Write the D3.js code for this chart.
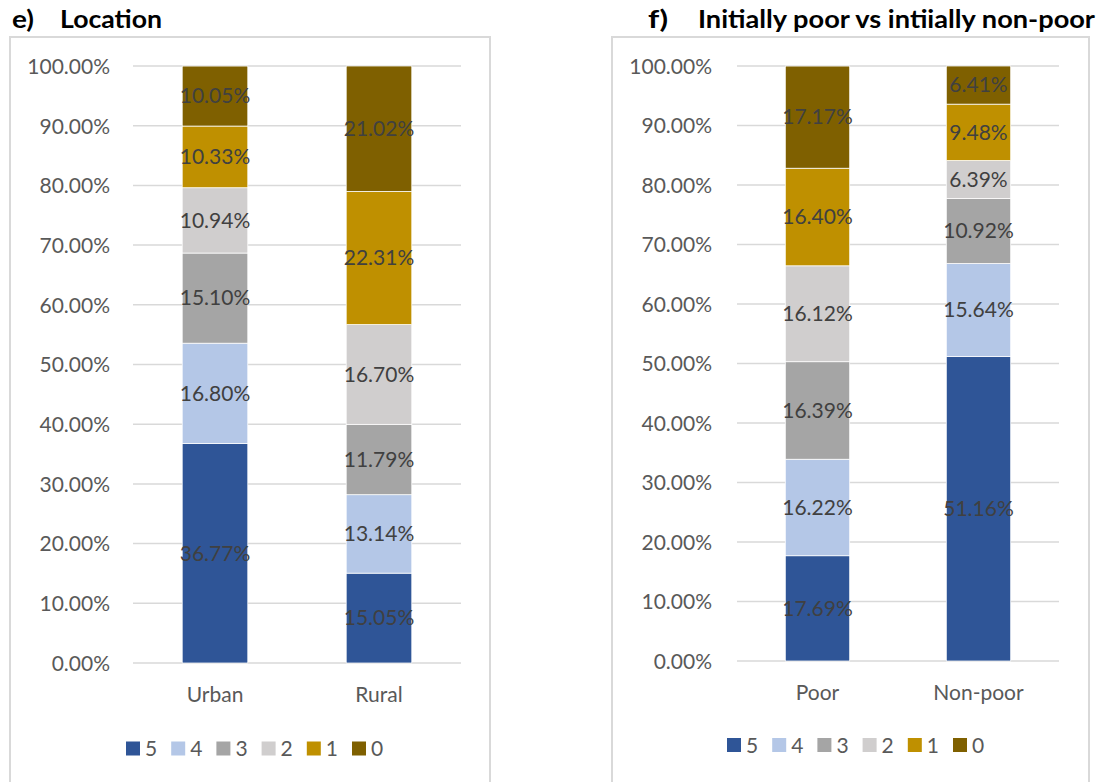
<!DOCTYPE html>
<html>
<head>
<meta charset="utf-8">
<script src="https://cdn.jsdelivr.net/npm/d3@7/dist/d3.min.js"></script>
<style>
  html, body { margin: 0; padding: 0; background: #fff; }
  svg { display: block; }
  text { font-family: Lato, "Open Sans", sans-serif; }
</style>
</head>
<body>
<svg id="chart" width="1109" height="782"></svg>
<script>
// Score groups, stacked from bottom (5) to top (0)
const scores = ["5", "4", "3", "2", "1", "0"];
const scoreColors = ["#2F5597", "#B4C7E7", "#A5A5A5", "#D0CECE", "#BF9000", "#7F6000"];

// Panel e) Location
const locationCategories = ["Urban", "Rural"];
const locationShares = {
  "5": [36.77, 15.05],
  "4": [16.80, 13.14],
  "3": [15.10, 11.79],
  "2": [10.94, 16.70],
  "1": [10.33, 22.31],
  "0": [10.05, 21.02]
};

// Panel f) Initially poor vs initially non-poor
const povertyCategories = ["Poor", "Non-poor"];
const povertyShares = {
  "5": [17.69, 51.16],
  "4": [16.22, 15.64],
  "3": [16.39, 10.92],
  "2": [16.12, 6.39],
  "1": [16.40, 9.48],
  "0": [17.17, 6.41]
};

const yTicks = [0, 10, 20, 30, 40, 50, 60, 70, 80, 90, 100];
const tickFormat = d => d.toFixed(2) + "%";

const svg = d3.select("#chart");
const color = d3.scaleOrdinal().domain(scores).range(scoreColors);
const FS = 21;

function drawPanel(cfg) {
  const g = svg.append("g");

  // Title
  g.append("text")
    .attr("x", cfg.titleX).attr("y", 28)
    .attr("font-size", 25).attr("font-weight", 700).attr("fill", "#000")
    .attr("textLength", cfg.prefixLen).attr("lengthAdjust", "spacingAndGlyphs")
    .text(cfg.prefix);
  g.append("text")
    .attr("x", cfg.titleX + cfg.titleGap).attr("y", 28)
    .attr("font-size", 25).attr("font-weight", 700).attr("fill", "#000")
    .attr("textLength", cfg.titleLen).attr("lengthAdjust", "spacingAndGlyphs")
    .text(cfg.title);

  // Chart frame
  g.append("rect")
    .attr("x", cfg.frame[0]).attr("y", 37)
    .attr("width", cfg.frame[1] - cfg.frame[0]).attr("height", 800)
    .attr("fill", "none").attr("stroke", "#D9D9D9").attr("stroke-width", 2);

  const x = d3.scaleBand().domain(cfg.categories)
    .range([cfg.plotX0, cfg.plotX1]).paddingInner(0.6).paddingOuter(0.3);
  const y = d3.scaleLinear().domain([0, 100]).range([cfg.plotY1, 66]);

  // Gridlines
  g.append("g").selectAll("line").data(yTicks).join("line")
    .attr("x1", cfg.plotX0).attr("x2", cfg.plotX1)
    .attr("y1", d => y(d)).attr("y2", d => y(d))
    .attr("stroke", "#D9D9D9").attr("stroke-width", 1.5);

  // Y axis labels
  const yAxis = d3.axisLeft(y).tickValues(yTicks).tickFormat(tickFormat).tickSize(0).tickPadding(0);
  const ya = g.append("g").attr("transform", `translate(${cfg.tickRight},0)`).call(yAxis);
  ya.select(".domain").remove();
  ya.selectAll("text").attr("font-size", FS).attr("fill", "#595959")
    .attr("font-family", "Lato, sans-serif").attr("dy", "0.35em");

  // Stack data
  const rows = cfg.categories.map((c, i) => {
    const r = { cat: c };
    scores.forEach(s => { r[s] = cfg.shares[s][i]; });
    return r;
  });
  const series = d3.stack().keys(scores)(rows);

  const layers = g.append("g").selectAll("g").data(series).join("g")
    .attr("fill", d => color(d.key));
  layers.selectAll("rect").data(d => d).join("rect")
    .attr("x", d => x(d.data.cat))
    .attr("width", x.bandwidth())
    .attr("y", d => y(Math.min(100, d[1])))
    .attr("height", d => y(d[0]) - y(Math.min(100, d[1])))
    .attr("stroke", "#fff").attr("stroke-width", 0.75);

  // Value labels centred in each segment
  const labels = g.append("g");
  series.forEach(s => {
    s.forEach(d => {
      labels.append("text")
        .attr("x", x(d.data.cat) + x.bandwidth() / 2)
        .attr("y", y((d[0] + Math.min(100, d[1])) / 2))
        .attr("dy", "0.35em")
        .attr("text-anchor", "middle")
        .attr("font-size", FS).attr("fill", "#404040")
        .text(d.data[s.key].toFixed(2) + "%");
    });
  });

  // Category labels
  const xAxis = d3.axisBottom(x).tickSize(0).tickPadding(0);
  const xa = g.append("g").attr("transform", `translate(0,${cfg.catBaseline})`).call(xAxis);
  xa.select(".domain").remove();
  xa.selectAll("text").attr("font-size", FS).attr("fill", "#595959")
    .attr("font-family", "Lato, sans-serif").attr("dy", 0);

  // Legend
  const leg = g.append("g").attr("transform", `translate(${cfg.legendX},${cfg.legendY})`);
  const items = leg.selectAll("g").data(scores).join("g")
    .attr("transform", (d, i) => `translate(${i * 45.2},0)`);
  items.append("rect").attr("x", 0).attr("y", -7).attr("width", 14).attr("height", 14)
    .attr("fill", d => color(d));
  items.append("text").attr("x", 19).attr("y", 0).attr("dy", "0.36em")
    .attr("font-size", FS).attr("fill", "#595959").text(d => d);
}

drawPanel({
  prefix: "e)", title: "Location", titleX: 12, titleGap: 48, prefixLen: 22, titleLen: 102,
  frame: [10, 490], plotX0: 133, plotX1: 461, plotY1: 663,
  tickRight: 110, catBaseline: 702, legendX: 126, legendY: 748.5,
  categories: locationCategories, shares: locationShares
});

drawPanel({
  prefix: "f)", title: "Initially poor vs intiially non-poor", titleX: 648, titleGap: 50, prefixLen: 20, titleLen: 397,
  frame: [612, 1089], plotX0: 737, plotX1: 1059, plotY1: 661,
  tickRight: 712, catBaseline: 700, legendX: 727, legendY: 745,
  categories: povertyCategories, shares: povertyShares
});
</script>
</body>
</html>
